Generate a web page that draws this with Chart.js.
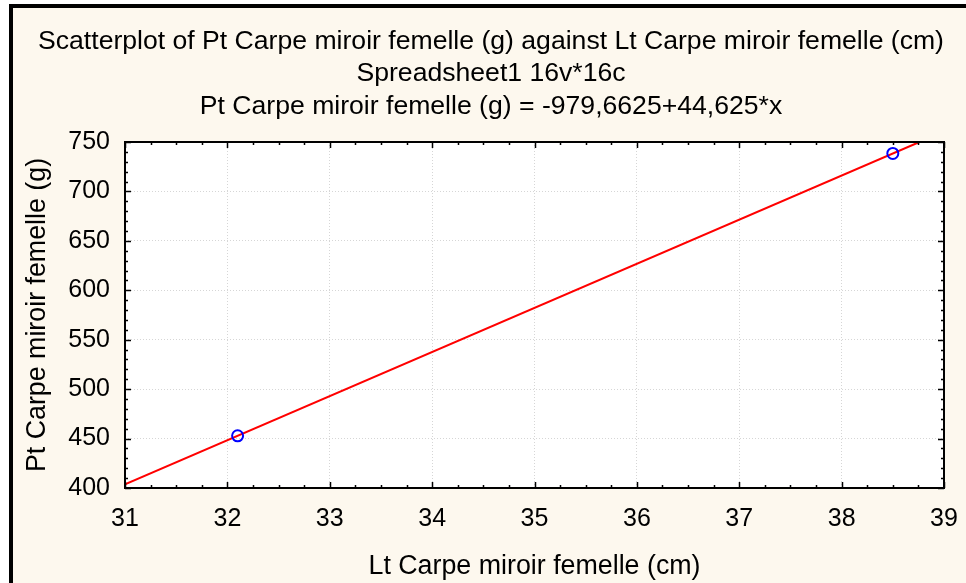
<!DOCTYPE html>
<html>
<head>
<meta charset="utf-8">
<title>Scatterplot</title>
<script src="https://cdn.jsdelivr.net/npm/chart.js@4.4.1/dist/chart.umd.min.js"></script>
<style>
    body { margin: 0; background: #ffffff; }
    #frame {
        position: absolute;
        left: 9px;
        top: 4px;
        width: 957px;
        height: 579px;
        border-left: 4px solid #000000;
        border-top: 4px solid #000000;
        background: #fdf8ee;
        overflow: hidden;
    }
</style>
</head>
<body>
<div id="frame"><canvas id="scatter" width="953" height="575"></canvas></div>
<script>
// Data
const lengthCm = [32.1, 38.5]
const weightG = [452.8, 738.4]

// Fitted line: Pt = intercept + slope * Lt
const intercept = -979.6625
const slope = 44.625

const xMin = 31, xMax = 39
const yMin = 400, yMax = 750

const titleLines = [
    'Scatterplot of Pt Carpe miroir femelle (g) against Lt Carpe miroir femelle (cm)',
    'Spreadsheet1 16v*16c',
    'Pt Carpe miroir femelle (g) = -979,6625+44,625*x'
]
const xTitle = 'Lt Carpe miroir femelle (cm)'
const yTitle = 'Pt Carpe miroir femelle (g)'

const fontFamily = '"Liberation Sans", Arial, sans-serif'

let points = lengthCm.map(function(d, i){
    return { x: d, y: weightG[i] }
})

// line runs from the left edge until it leaves the top of the plot
let lineEnd = Math.min(xMax, (yMax - intercept) / slope)
let fitLine = [
    { x: xMin, y: intercept + slope * xMin },
    { x: lineEnd, y: intercept + slope * lineEnd }
]

// Three centred title lines above the plot
const titleBlock = {
    id: 'titleBlock',
    afterDraw(chart) {
        const ctx = chart.ctx
        ctx.save()
        ctx.fillStyle = '#000000'
        ctx.font = '26.6px ' + fontFamily
        ctx.textAlign = 'center'
        ctx.textBaseline = 'middle'
        let rows = [33.5, 66, 98.5]
        titleLines.forEach(function(t, i){
            ctx.fillText(t, 478, rows[i])
        })
        ctx.restore()
    }
}

// Frame with inward major/minor ticks on all four sides
const frameTicks = {
    id: 'frameTicks',
    afterDatasetsDraw(chart) {
        const ctx = chart.ctx
        const a = chart.chartArea
        const xs = chart.scales.x
        const ys = chart.scales.y
        ctx.save()
        ctx.strokeStyle = '#000000'
        ctx.lineWidth = 1.5
        ctx.beginPath()
        for (let v = xMin; v <= xMax + 1e-9; v += 0.25) {
            let px = Math.round(xs.getPixelForValue(v)) + 0.5
            let len = Math.abs(v - Math.round(v)) < 1e-9 ? 6 : 3
            ctx.moveTo(px, a.bottom); ctx.lineTo(px, a.bottom - len)
            ctx.moveTo(px, a.top); ctx.lineTo(px, a.top + len)
        }
        for (let v = yMin; v <= yMax + 1e-9; v += 10) {
            let py = Math.round(ys.getPixelForValue(v)) + 0.5
            let len = v % 50 === 0 ? 6 : 3
            ctx.moveTo(a.left, py); ctx.lineTo(a.left + len, py)
            ctx.moveTo(a.right, py); ctx.lineTo(a.right - len, py)
        }
        ctx.stroke()
        ctx.lineWidth = 2
        ctx.strokeRect(a.left, a.top, a.right - a.left, a.bottom - a.top)
        ctx.restore()
    }
}

// White plot background
const plotBackground = {
    id: 'plotBackground',
    beforeDraw(chart) {
        const a = chart.chartArea
        chart.ctx.save()
        chart.ctx.fillStyle = '#ffffff'
        chart.ctx.fillRect(a.left, a.top, a.right - a.left, a.bottom - a.top)
        chart.ctx.restore()
    }
}

new Chart('scatter', {
    type: 'scatter',
    data: {
        datasets: [
            {
                label: 'Fit',
                data: fitLine,
                showLine: true,
                borderColor: '#ff0000',
                borderWidth: 2,
                pointRadius: 0,
                order: 2
            },
            {
                label: 'Pt',
                data: points,
                backgroundColor: 'rgba(0,0,0,0)',
                borderColor: '#0000ff',
                borderWidth: 2,
                pointRadius: 5.5,
                order: 1
            }
        ]
    },
    options: {
        responsive: false,
        animation: false,
        layout: {
            padding: { left: 0, right: 22, top: 134, bottom: 0 }
        },
        scales: {
            x: {
                type: 'linear',
                min: xMin,
                max: xMax,
                border: { display: false, dash: [1, 2] },
                grid: {
                    color: '#d6d6d6',
                    lineWidth: 1,
                    drawTicks: false
                },
                ticks: {
                    stepSize: 1,
                    color: '#000000',
                    padding: 16,
                    font: { family: fontFamily, size: 25 }
                },
                title: {
                    display: true,
                    text: xTitle,
                    color: '#000000',
                    padding: { top: 8, bottom: 0 },
                    font: { family: fontFamily, size: 26.8 }
                },
                afterFit: function(scale) {
                    scale.height = 95
                    scale.paddingLeft = 0
                    scale.paddingRight = 0
                }
            },
            y: {
                type: 'linear',
                min: yMin,
                max: yMax,
                border: { display: false, dash: [1, 2] },
                grid: {
                    color: '#d6d6d6',
                    lineWidth: 1,
                    drawTicks: false
                },
                ticks: {
                    stepSize: 50,
                    color: '#000000',
                    padding: 15,
                    font: { family: fontFamily, size: 25 }
                },
                title: {
                    display: true,
                    text: yTitle,
                    color: '#000000',
                    padding: { top: 9, bottom: 0 },
                    font: { family: fontFamily, size: 26.8 }
                },
                afterFit: function(scale) { scale.width = 112 }
            }
        },
        plugins: {
            legend: { display: false },
            tooltip: { enabled: false },
            title: { display: false }
        }
    },
    plugins: [plotBackground, frameTicks, titleBlock]
})
</script>
</body>
</html>
